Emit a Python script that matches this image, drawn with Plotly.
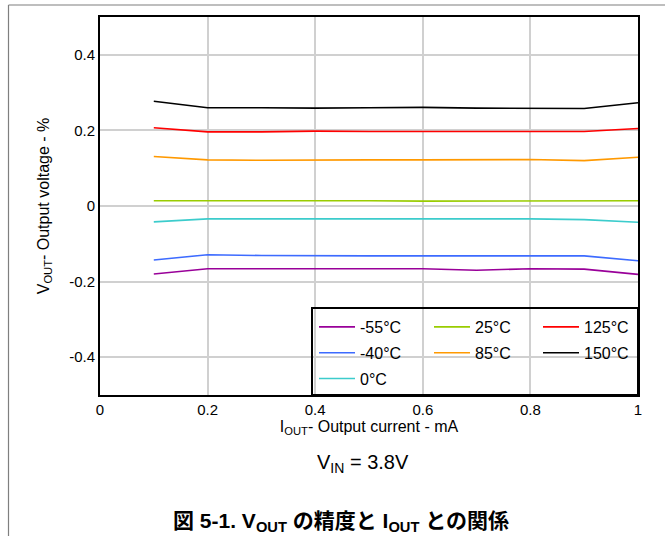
import plotly.graph_objects as go

x_current = [0.1, 0.2, 0.3, 0.4, 0.5, 0.6, 0.7, 0.8, 0.9, 1.0]

labels = ["-55°C", "-40°C", "0°C", "25°C", "85°C", "125°C", "150°C"]
colors = ["#990099", "#3d6bff", "#3ccccc", "#99cc00", "#ff9900", "#ff0000", "#000000"]

v_m55 = [-0.180, -0.166, -0.166, -0.166, -0.166, -0.166, -0.170, -0.166, -0.167, -0.181]
v_m40 = [-0.143, -0.129, -0.131, -0.132, -0.132, -0.132, -0.132, -0.132, -0.132, -0.145]
v_0 = [-0.042, -0.034, -0.034, -0.034, -0.035, -0.034, -0.034, -0.034, -0.036, -0.043]
v_25 = [0.014, 0.014, 0.015, 0.014, 0.014, 0.013, 0.013, 0.013, 0.012, 0.014]
v_85 = [0.131, 0.122, 0.121, 0.122, 0.122, 0.122, 0.122, 0.123, 0.120, 0.129]
v_125 = [0.207, 0.196, 0.196, 0.198, 0.197, 0.197, 0.197, 0.197, 0.197, 0.205]
v_150 = [0.277, 0.260, 0.260, 0.259, 0.260, 0.261, 0.259, 0.258, 0.258, 0.273]

series = [v_m55, v_m40, v_0, v_25, v_85, v_125, v_150]
legend_of = ["legend", "legend", "legend", "legend2", "legend2", "legend3", "legend3"]

x_ticks = [0, 0.2, 0.4, 0.6, 0.8, 1]
x_ticktext = ["0", "0.2", "0.4", "0.6", "0.8", "1"]
y_ticks = [-0.4, -0.2, 0, 0.2, 0.4]
y_ticktext = ["-0.4", "-0.2", "0", "0.2", "0.4"]

FONT = "Liberation Sans, Arial, sans-serif"

fig = go.Figure()
for i, (lab, col, vals) in enumerate(zip(labels, colors, series)):
    fig.add_trace(go.Scatter(
        x=x_current, y=vals, mode="lines", name=lab,
        line=dict(color=col, width=1.6),
        legend=legend_of[i], legendgroup=lab,
    ))

W, H = 665, 536
L, R, T, B = 100, 27, 17, 141
pw, ph = W - L - R, H - T - B

def px(xp):
    return (xp - L) / pw

def py(yp):
    return (H - B - yp) / ph

leg_common = dict(
    orientation="v", xanchor="left", yanchor="top",
    bgcolor="rgba(0,0,0,0)", borderwidth=0,
    font=dict(family=FONT, size=16, color="#000"),
    itemwidth=36, tracegroupgap=2,
)

fig.update_layout(
    width=W, height=H,
    margin=dict(l=L, r=R, t=T, b=B),
    paper_bgcolor="white", plot_bgcolor="white",
    font=dict(family=FONT, size=15, color="#000"),
    showlegend=True,
    legend=dict(x=px(314), y=py(310), **leg_common),
    legend2=dict(x=px(429), y=py(310), **leg_common),
    legend3=dict(x=px(538), y=py(310), **leg_common),
    xaxis=dict(
        range=[0, 1], tickvals=x_ticks, ticktext=x_ticktext,
        showgrid=True, gridcolor="#d0d0d0", gridwidth=1.5,
        showline=True, linecolor="#000", linewidth=2, mirror=True,
        ticks="", zeroline=False,
        title=dict(text="I<sub>OUT</sub>- Output current - mA", standoff=3,
                   font=dict(family=FONT, size=16)),
        tickfont=dict(family=FONT, size=15),
    ),
    yaxis=dict(
        range=[-0.5, 0.5], tickvals=y_ticks, ticktext=y_ticktext,
        showgrid=True, gridcolor="#d0d0d0", gridwidth=1.5,
        showline=True, linecolor="#000", linewidth=2, mirror=True,
        ticks="", zeroline=False,
        title=dict(text="V<sub>OUT</sub>- Output voltage - %", standoff=16,
                   font=dict(family=FONT, size=16)),
        tickfont=dict(family=FONT, size=15),
    ),
    shapes=[
        # legend frame
        dict(type="rect", xref="paper", yref="paper",
             x0=px(312), x1=1, y0=0, y1=py(308),
             line=dict(color="#000", width=2), fillcolor="rgba(0,0,0,0)"),
        # outer figure frame (left and top)
        dict(type="line", xref="paper", yref="paper",
             x0=px(8.5), x1=px(8.5), y0=py(536), y1=py(5),
             line=dict(color="#7f7f7f", width=1.2)),
        dict(type="line", xref="paper", yref="paper",
             x0=px(8.5), x1=px(665), y0=py(5), y1=py(5),
             line=dict(color="#7f7f7f", width=1.2)),
    ],
    annotations=[
        dict(text="V<sub>IN</sub> = 3.8V", xref="paper", yref="paper",
             x=px(363), y=py(463), showarrow=False,
             xanchor="center", yanchor="middle",
             font=dict(family=FONT, size=20, color="#000")),
        dict(text="<b>図 5-1. V<sub>OUT</sub> の精度と I<sub>OUT</sub> との関係</b>",
             xref="paper", yref="paper",
             x=px(341), y=py(522), showarrow=False,
             xanchor="center", yanchor="middle",
             font=dict(family="Liberation Sans, Noto Sans CJK JP, sans-serif", size=21, color="#000")),
    ],
)

fig.write_html(
    "out.html",
    config={"displayModeBar": False},
    post_script="document.body.style.margin='0px';document.body.style.overflow='hidden';",
)
